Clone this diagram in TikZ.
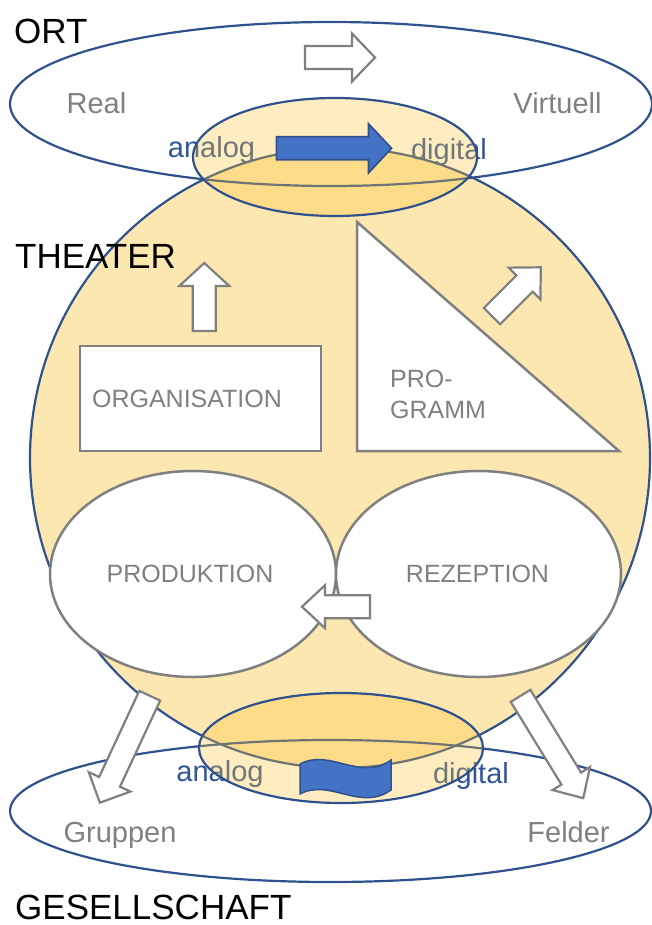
\documentclass[tikz,border=0pt]{standalone}
\usepackage{fontspec}
\setmainfont{Liberation Sans}
\usetikzlibrary{shapes.geometric}

\definecolor{ringblue}{RGB}{47,82,143}
\definecolor{theaterfill}{RGB}{253,231,176}
\definecolor{lensfill}{RGB}{255,196,50}
\definecolor{partgray}{RGB}{128,128,128}
\definecolor{wordblue}{RGB}{47,85,151}
\definecolor{arrowblue}{RGB}{68,114,196}

% block arrow: [style]{centre}{angle}{length}{head width}
\newcommand{\blockarrow}[5][]{%
  \draw[#1,shift={#2},rotate=#3]
    (-#4/2,-11.5) -- (#4/2-23,-11.5) -- (#4/2-23,-#5/2) -- (#4/2,0)
    -- (#4/2-23,#5/2) -- (#4/2-23,11.5) -- (-#4/2,11.5) -- cycle;}

\begin{document}
\begin{tikzpicture}[x=1pt,y=-1pt,
    ring/.style={draw=ringblue,line width=2.2pt},
    lens/.style={ring,fill=lensfill,fill opacity=.3},
    part/.style={draw=partgray,line width=2.5pt,fill=white,inner sep=0pt},
    parttext/.style={text=partgray,inner sep=0pt,font=\fontsize{25}{30}\selectfont},
    sidetext/.style={text=partgray,inner sep=0pt,font=\fontsize{29}{34}\selectfont},
    bluetext/.style={text=wordblue,inner sep=0pt,font=\fontsize{29}{34}\selectfont},
    headline/.style={text=black,inner sep=0pt,font=\fontsize{35}{42}\selectfont},
    hollow/.style={draw=partgray,line width=2.2pt,fill=white},
    solid/.style={draw=ringblue,line width=1.8pt,fill=arrowblue}]
  \useasboundingbox (0,0) rectangle (651,925);

  % theater
  \draw[ring,fill=theaterfill] (340,458) circle[radius=310];

  % ort and gesellschaft
  \draw[ring] (331,104) ellipse[x radius=321,y radius=82];
  \draw[ring] (330.5,811) ellipse[x radius=320.5,y radius=71];

  % parts of the theater
  \node[part,minimum width=241pt,minimum height=105pt] (org) at (200.5,398.5) {};
  \draw[part] (357,222) -- (357,451) -- (619,451) -- cycle;
  \node[part,ellipse,minimum width=286pt,minimum height=206pt] (prod) at (193,574) {};
  \node[part,ellipse,minimum width=285pt,minimum height=206pt] (rez) at (478.5,574) {};

  % analog / digital
  \node[bluetext,anchor=base] (analogtop) at (211.5,158) {analog};
  \node[bluetext,anchor=base] (digitaltop) at (449,159.5) {digital};
  \node[bluetext,anchor=base] (analogbottom) at (220,781) {analog};
  \node[bluetext,anchor=base] (digitalbottom) at (471,783) {digital};

  \draw[lens] (335,157) ellipse[x radius=142,y radius=59];
  \draw[lens] (341,748) ellipse[x radius=142,y radius=55];

  % arrows
  \blockarrow[hollow]{(340,57.5)}{0}{70}{48}
  \blockarrow[solid]{(334,148.3)}{0}{115}{49}
  \blockarrow[hollow]{(204.3,297)}{90}{68}{50}
  \blockarrow[hollow]{(516.4,291.7)}{45}{69}{45}
  \blockarrow[hollow]{(336,606.7)}{180}{68}{43}
  \blockarrow[hollow]{(124.8,749.2)}{245}{118}{46}
  \blockarrow[hollow]{(551.9,747)}{-58.5}{120}{44}
  \draw[solid,line width=1.5pt] (300,764) .. controls (330,748) and (360,782) .. (391,760)
    -- (391,790) .. controls (360,812) and (330,778) .. (300,794) -- cycle;

  % texts
  \node[headline,anchor=base west] (ort) at (14,44) {ORT};
  \node[headline,anchor=base west] (theater) at (15,268) {THEATER};
  \node[headline,anchor=base west] (gesellschaft) at (15,919) {GESELLSCHAFT};
  \node[sidetext,anchor=base] (real) at (96.5,113.5) {Real};
  \node[sidetext,anchor=base] (virtuell) at (557.5,113.5) {Virtuell};
  \node[sidetext,anchor=base] (gruppen) at (120,842) {Gruppen};
  \node[sidetext,anchor=base] (felder) at (568.5,842) {Felder};
  \node[parttext,anchor=base] (orgtext) at (187,407) {ORGANISATION};
  \node[parttext,anchor=base west] (progtop) at (390,387) {PRO-};
  \node[parttext,anchor=base west] (progbottom) at (390,418) {GRAMM};
  \node[parttext,anchor=base] (prodtext) at (190,582) {PRODUKTION};
  \node[parttext,anchor=base] (reztext) at (477.5,582) {REZEPTION};
\end{tikzpicture}
\end{document}
